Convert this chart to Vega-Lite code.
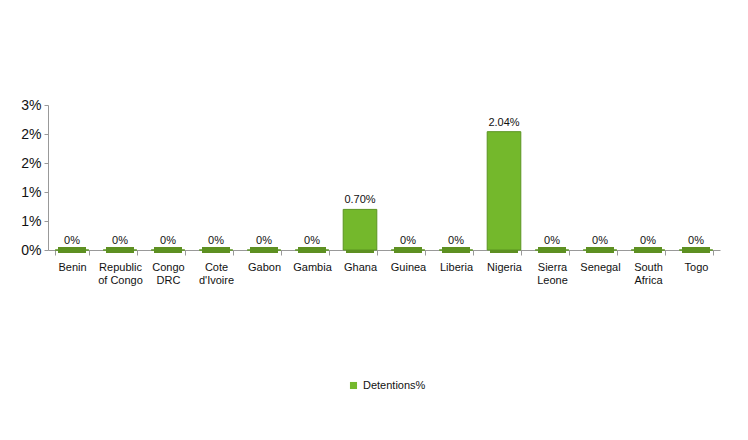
{
  "$schema": "https://vega.github.io/schema/vega-lite/v6.json",
  "width": 672,
  "height": 145,
  "autosize": "none",
  "padding": {"left": 48, "top": 105, "right": 28, "bottom": 190},
  "background": "white",
  "config": {
    "font": "Liberation Sans",
    "view": {"stroke": null},
    "axis": {"labelFont": "Liberation Sans", "labelColor": "#111", "domainColor": "#999", "tickColor": "#999"}
  },
  "data": {
    "values": [
      {"country": "Benin", "value": 0, "label": "0%", "series": "Detentions%"},
      {"country": "Republic of Congo", "value": 0, "label": "0%", "series": "Detentions%"},
      {"country": "Congo DRC", "value": 0, "label": "0%", "series": "Detentions%"},
      {"country": "Cote d'Ivoire", "value": 0, "label": "0%", "series": "Detentions%"},
      {"country": "Gabon", "value": 0, "label": "0%", "series": "Detentions%"},
      {"country": "Gambia", "value": 0, "label": "0%", "series": "Detentions%"},
      {"country": "Ghana", "value": 0.007, "label": "0.70%", "series": "Detentions%"},
      {"country": "Guinea", "value": 0, "label": "0%", "series": "Detentions%"},
      {"country": "Liberia", "value": 0, "label": "0%", "series": "Detentions%"},
      {"country": "Nigeria", "value": 0.0204, "label": "2.04%", "series": "Detentions%"},
      {"country": "Sierra Leone", "value": 0, "label": "0%", "series": "Detentions%"},
      {"country": "Senegal", "value": 0, "label": "0%", "series": "Detentions%"},
      {"country": "South Africa", "value": 0, "label": "0%", "series": "Detentions%"},
      {"country": "Togo", "value": 0, "label": "0%", "series": "Detentions%"}
    ]
  },
  "encoding": {
    "x": {
      "field": "country",
      "type": "nominal",
      "sort": null,
      "scale": {"paddingInner": 0.3, "paddingOuter": 0.15},
      "axis": {
        "title": null,
        "labelAngle": 0,
        "labelFontSize": 11,
        "labelPadding": 6,
        "tickBand": "extent",
        "labelExpr": "datum.value == 'Republic of Congo' ? ['Republic','of Congo'] : datum.value == 'Congo DRC' ? ['Congo','DRC'] : datum.value == \"Cote d'Ivoire\" ? ['Cote',\"d'Ivoire\"] : datum.value == 'Sierra Leone' ? ['Sierra','Leone'] : datum.value == 'South Africa' ? ['South','Africa'] : datum.value"
      }
    },
    "y": {
      "field": "value",
      "type": "quantitative",
      "scale": {"domain": [0, 0.025], "nice": false},
      "axis": {
        "title": null,
        "values": [0, 0.005, 0.01, 0.015, 0.02, 0.025],
        "labelExpr": "datum.value < 0.001 ? '0%' : datum.value < 0.011 ? '1%' : datum.value < 0.021 ? '2%' : '3%'",
        "labelFontSize": 14,
        "grid": false,
        "tickSize": 4,
        "labelPadding": 3
      }
    }
  },
  "layer": [
    {
      "mark": {"type": "tick", "color": "#5e8f22", "thickness": 6, "size": 28, "opacity": 1},
      "encoding": {"y": {"datum": 0, "type": "quantitative"}}
    },
    {
      "mark": {"type": "bar", "stroke": "#5a9420", "strokeWidth": 1},
      "encoding": {
        "color": {
          "field": "series",
          "type": "nominal",
          "scale": {"range": ["#74b82c"]},
          "legend": {
            "title": null,
            "orient": "none",
            "legendX": 300,
            "legendY": 275,
            "symbolType": "square",
            "symbolSize": 50,
            "symbolStrokeWidth": 0,
            "labelFontSize": 11,
            "labelFont": "Liberation Sans",
            "labelColor": "#111"
          }
        }
      }
    },
    {
      "mark": {"type": "text", "dy": -9, "fontSize": 11, "color": "#111"},
      "encoding": {
        "text": {"field": "label"}
      }
    }
  ]
}
